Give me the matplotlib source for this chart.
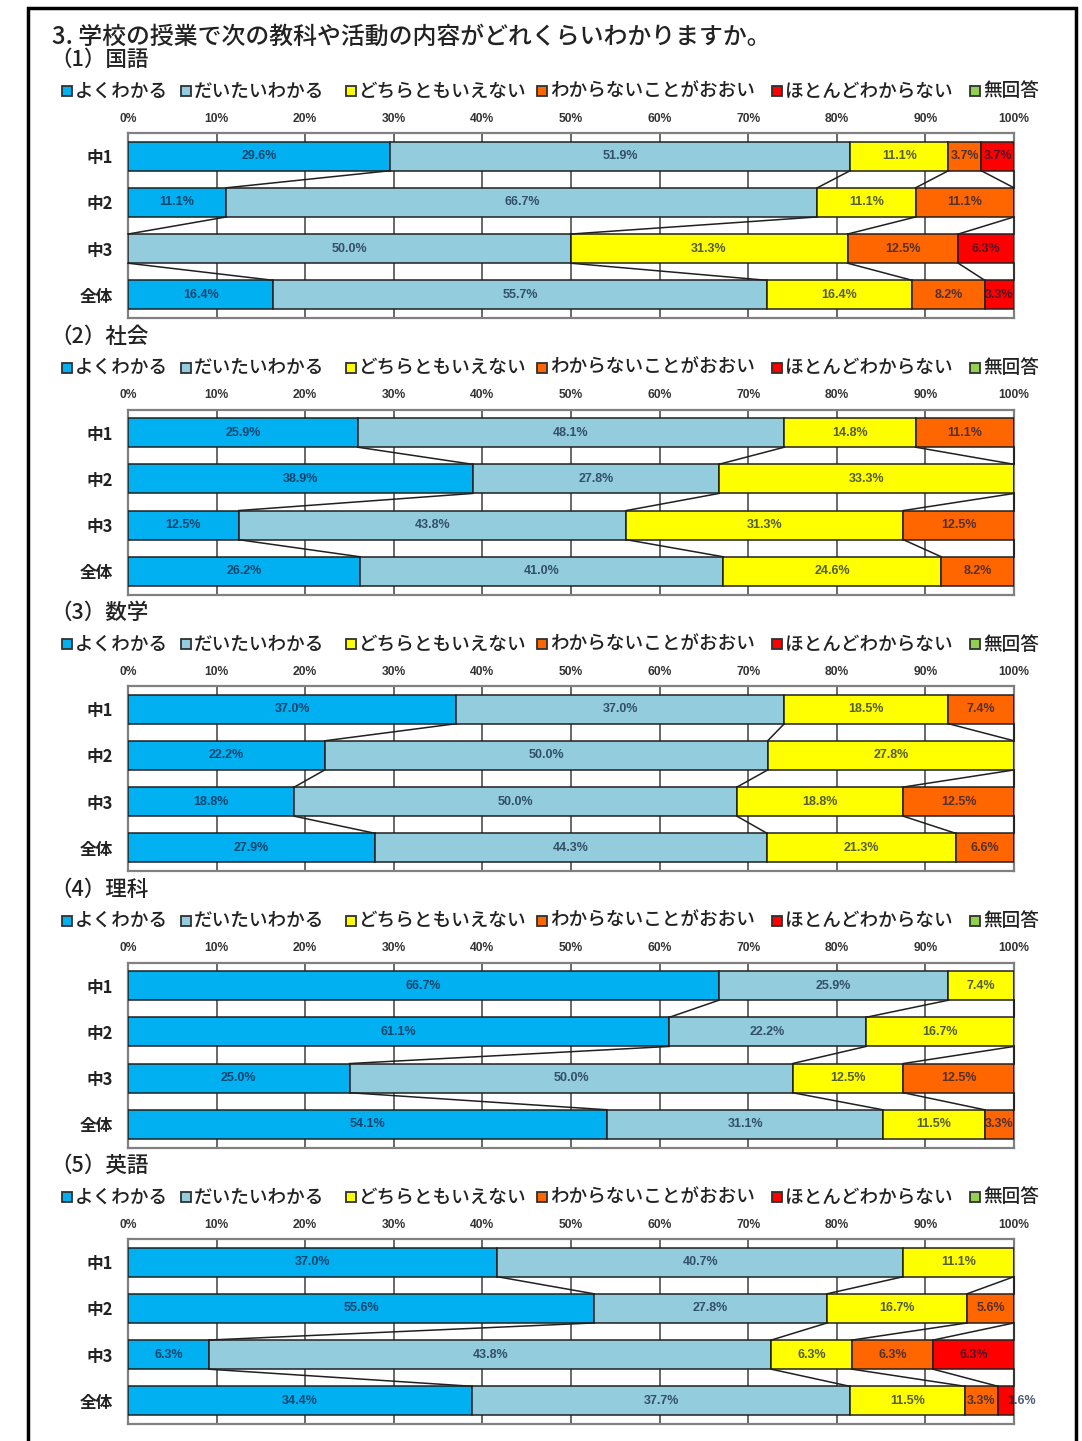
import matplotlib
matplotlib.use('Agg')
import matplotlib.pyplot as plt
import numpy as np
from matplotlib.patches import Rectangle

plt.rcParams['font.family'] = ['Noto Sans CJK JP', 'DejaVu Sans']

W, H = 1082, 1441

title = '3. 学校の授業で次の教科や活動の内容がどれくらいわかりますか。'
categories = ['中1', '中2', '中3', '全体']
series_names = ['よくわかる', 'だいたいわかる', 'どちらともいえない',
                'わからないことがおおい', 'ほとんどわからない', '無回答']
series_colors = ['#00B0F0', '#93CDDD', '#FFFF00', '#FF6600', '#FF0000', '#92D050']
subjects = ['（1）国語', '（2）社会', '（3）数学', '（4）理科', '（5）英語']
ticks = [0, 10, 20, 30, 40, 50, 60, 70, 80, 90, 100]

# rows: 中1, 中2, 中3, 全体 / cols: series
kokugo = [[29.6, 51.9, 11.1, 3.7, 3.7, 0],
          [11.1, 66.7, 11.1, 11.1, 0, 0],
          [0, 50.0, 31.3, 12.5, 6.3, 0],
          [16.4, 55.7, 16.4, 8.2, 3.3, 0]]
shakai = [[25.9, 48.1, 14.8, 11.1, 0, 0],
          [38.9, 27.8, 33.3, 0, 0, 0],
          [12.5, 43.8, 31.3, 12.5, 0, 0],
          [26.2, 41.0, 24.6, 8.2, 0, 0]]
sugaku = [[37.0, 37.0, 18.5, 7.4, 0, 0],
          [22.2, 50.0, 27.8, 0, 0, 0],
          [18.8, 50.0, 18.8, 12.5, 0, 0],
          [27.9, 44.3, 21.3, 6.6, 0, 0]]
rika = [[66.7, 25.9, 7.4, 0, 0, 0],
        [61.1, 22.2, 16.7, 0, 0, 0],
        [25.0, 50.0, 12.5, 12.5, 0, 0],
        [54.1, 31.1, 11.5, 3.3, 0, 0]]
eigo = [[37.0, 40.7, 11.1, 0, 0, 0],
        [55.6, 27.8, 16.7, 5.6, 0, 0],
        [6.3, 43.8, 6.3, 6.3, 6.3, 0],
        [34.4, 37.7, 11.5, 3.3, 1.6, 0]]
all_data = [kokugo, shakai, sugaku, rika, eigo]

num_font = ['Liberation Sans Narrow', 'Liberation Sans']

fig = plt.figure(figsize=(W / 100, H / 100), dpi=100, facecolor='white')

# background layer in pixel coords for frame, titles and legends
bg = fig.add_axes([0, 0, 1, 1])
bg.set_xlim(0, W)
bg.set_ylim(H, 0)
bg.axis('off')

# page frame (top, left, right)
bg.plot([28, 28, 1076, 1076], [H, 8, 8, H], color='black', lw=2.5, solid_joinstyle='miter')

bg.text(52, 37, title, fontsize=17.2, fontweight='medium', va='center', ha='left', color='#222222')

step = 276.5
legend_x = [62, 181, 346, 537, 772, 970]
px0, px1 = 128, 1014
bar_h = 0.63

for k, data in enumerate(all_data):
    off = step * k
    bg.text(50, 60 + off, subjects[k], fontsize=15.5, fontweight='medium',
            va='center', ha='left', color='#222222')
    # legend
    for j, name in enumerate(series_names):
        ly = 91 + off
        bg.add_patch(Rectangle((legend_x[j], ly - 5), 10, 10, facecolor=series_colors[j],
                               edgecolor='#303030', lw=1.3))
        bg.text(legend_x[j] + 13, ly, name, fontsize=13.4, fontweight='medium',
                va='center', ha='left', color='#222222')

    # chart axes
    top, bot = 133 + off, 318 + off
    ax = fig.add_axes([px0 / W, 1 - bot / H, (px1 - px0) / W, (bot - top) / H])
    ax.set_xlim(0, 100)
    ax.set_ylim(3.5, -0.5)
    for t in ticks:
        ax.axvline(t, color='#404040', lw=1.1, zorder=1)

    vals = np.array(data, dtype=float)
    # 100% stacked: normalise each row
    widths = vals / vals.sum(axis=1, keepdims=True) * 100
    cum = np.cumsum(widths, axis=1)
    lefts = cum - widths
    y = np.arange(len(categories))

    for j in range(len(series_names)):
        ax.barh(y, widths[:, j], left=lefts[:, j], height=bar_h, color=series_colors[j],
                edgecolor='#202020', lw=1.1, zorder=3)
        for i in range(len(categories)):
            v = vals[i, j]
            if v <= 0:
                continue
            if widths[i, j] < 2.5:
                # too narrow: label spills out to the right
                lx, ha = lefts[i, j] + widths[i, j] * 0.55, 'left'
            else:
                lx, ha = lefts[i, j] + widths[i, j] / 2, 'center'
            ax.text(lx, y[i], f'{v:.1f}%', ha=ha, va='center', fontsize=9,
                    fontweight='bold', family=num_font, color='#0a1a3a',
                    alpha=0.7, zorder=5, clip_on=False)

    # series lines between bars
    for i in range(len(categories) - 1):
        for j in range(len(series_names) - 1):
            ax.plot([cum[i, j], cum[i + 1, j]], [y[i] + bar_h / 2, y[i + 1] - bar_h / 2],
                    color='#202020', lw=1.1, zorder=4, clip_on=False)

    ax.xaxis.tick_top()
    ax.set_xticks(ticks)
    ax.set_xticklabels([f'{t}%' for t in ticks], fontsize=8.7, fontweight='bold',
                       family=num_font, color='#333333')
    ax.set_yticks(y)
    ax.set_yticklabels(categories, fontsize=12, fontweight='bold', color='#222222')
    ax.tick_params(axis='x', length=0, pad=6)
    ax.tick_params(axis='y', length=0, pad=11)
    for s in ax.spines.values():
        s.set_color('#808080')
        s.set_linewidth(1.6)
    ax.set_facecolor('white')

fig.savefig('out.png', dpi=100, facecolor='white')
